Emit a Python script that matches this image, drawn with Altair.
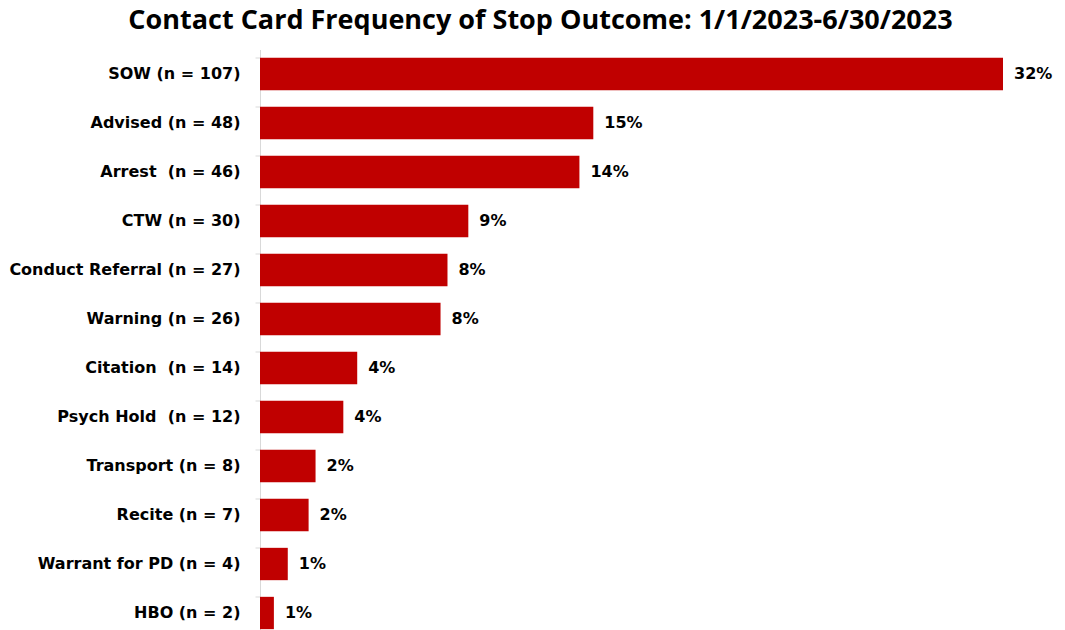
import altair as alt
import pandas as pd

categories = [
    "SOW (n = 107)", "Advised (n = 48)", "Arrest\u00a0 (n = 46)", "CTW (n = 30)",
    "Conduct Referral (n = 27)", "Warning (n = 26)", "Citation\u00a0 (n = 14)",
    "Psych Hold\u00a0 (n = 12)", "Transport (n = 8)", "Recite (n = 7)",
    "Warrant for PD (n = 4)", "HBO (n = 2)",
]
counts = [107, 48, 46, 30, 27, 26, 14, 12, 8, 7, 4, 2]
pct_labels = ["32%", "15%", "14%", "9%", "8%", "8%", "4%", "4%", "2%", "2%", "1%", "1%"]

df = pd.DataFrame({"cat": categories, "n": counts, "pct": pct_labels})

LABEL_FONT = "DejaVu Sans"

y = alt.Y(
    "cat:N",
    sort=categories,
    scale=alt.Scale(paddingInner=0.34, paddingOuter=0.17),
    axis=alt.Axis(
        title=None,
        domainColor="#d9d9d9",
        tickColor="#d9d9d9",
        tickSize=5,
        bandPosition=0,
        labelPadding=15,
        labelFont=LABEL_FONT,
        labelFontSize=16,
        labelFontWeight="bold",
        labelColor="#000000",
        labelLimit=400,
    ),
)
x = alt.X("n:Q", scale=alt.Scale(domain=[0, 107], nice=False, zero=True), axis=None)

bars = alt.Chart(df).mark_bar(color="#C00000").encode(x=x, y=y)
labels = alt.Chart(df).mark_text(
    align="left", baseline="middle", dx=11, font=LABEL_FONT, fontSize=16,
    fontWeight="bold", color="#000000",
).encode(x=x, y=y, text="pct:N")

chart = (
    alt.layer(bars, labels)
    .properties(
        width=743,
        height=588,
        padding={"left": 252, "top": 41.5, "right": 54, "bottom": 0},
        autosize=alt.AutoSizeParams(type="none"),
        title=alt.TitleParams(
            "Contact Card Frequency of Stop Outcome: 1/1/2023-6/30/2023",
            font="Open Sans",
            fontSize=27,
            fontWeight="bold",
            color="#000000",
            anchor="middle",
            dx=-91,
            offset=15,
        ),
    )
    .configure_view(stroke=None)
)

chart.save("out.html", embed_options={"renderer": "svg", "actions": False})
